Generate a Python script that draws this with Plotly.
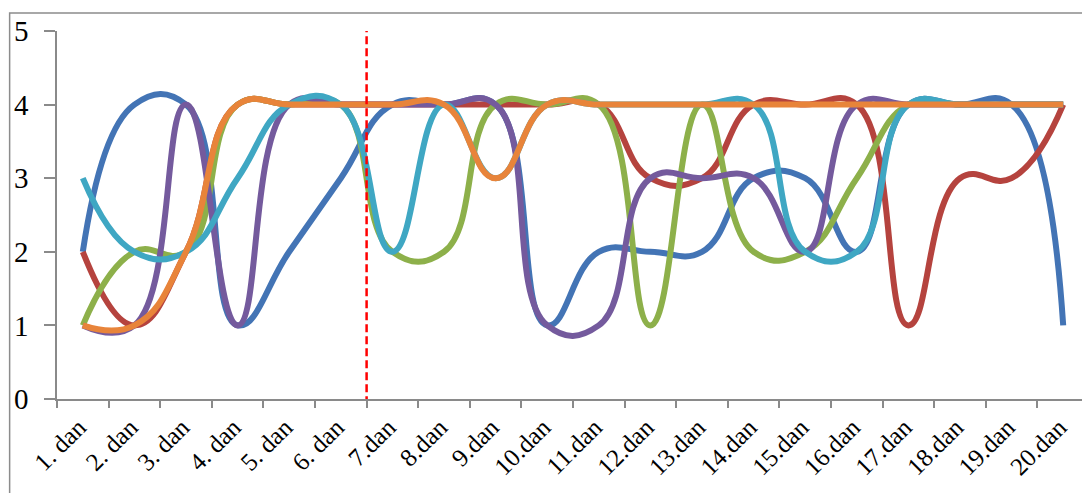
import plotly.graph_objects as go

days = ["1. dan", "2. dan", "3. dan", "4. dan", "5. dan", "6. dan",
        "7.dan", "8.dan", "9.dan", "10.dan", "11.dan", "12.dan", "13.dan",
        "14.dan", "15.dan", "16.dan", "17.dan", "18.dan", "19.dan", "20.dan"]

s_blue   = [2, 4, 4, 1, 2, 3, 4, 4, 4, 1, 2, 2, 2, 3, 3, 2, 4, 4, 4, 1]
s_red    = [2, 1, 2, 4, 4, 4, 4, 4, 4, 4, 4, 3, 3, 4, 4, 4, 1, 3, 3, 4]
s_green  = [1, 2, 2, 4, 4, 4, 2, 2, 4, 4, 4, 1, 4, 2, 2, 3, 4, 4, 4, 4]
s_purple = [1, 1, 4, 1, 4, 4, 4, 4, 4, 1, 1, 3, 3, 3, 2, 4, 4, 4, 4, 4]
s_teal   = [3, 2, 2, 3, 4, 4, 2, 4, 3, 4, 4, 4, 4, 4, 2, 2, 4, 4, 4, 4]
s_orange = [1, 1, 2, 4, 4, 4, 4, 4, 3, 4, 4, 4, 4, 4, 4, 4, 4, 4, 4, 4]

y_ticks = [0, 1, 2, 3, 4, 5]
split_after_index = 5  # boundary between "6. dan" and "7.dan"

series = [
    (s_blue, "#4374B5"),
    (s_red, "#B5433E"),
    (s_green, "#8DB04A"),
    (s_purple, "#745A9D"),
    (s_teal, "#3FA7C3"),
    (s_orange, "#E8843A"),
]

fig = go.Figure()
for vals, col in series:
    fig.add_trace(go.Scatter(
        x=days, y=vals, mode="lines",
        line=dict(color=col, width=6, shape="spline", smoothing=1.3),
        showlegend=False, hoverinfo="skip"))

xfont = dict(family="Liberation Serif, Times New Roman, serif", size=25, color="#000000")
yfont = dict(family="Liberation Serif, Times New Roman, serif", size=29, color="#000000")
axis_col = "#8A8A8A"

fig.update_xaxes(
    type="category", range=[-0.5, len(days) - 0.5],
    tickson="boundaries", ticks="outside", ticklen=7, tickwidth=1.5, tickcolor=axis_col,
    showline=True, linecolor=axis_col, linewidth=1.5,
    showgrid=False, zeroline=False, tickangle=-45, tickfont=xfont,
    ticklabelshift=-4, ticklabelstandoff=2, automargin=False)
fig.update_yaxes(
    range=[0, 5], tickvals=y_ticks, ticks="outside", ticklen=11, tickwidth=1.5,
    tickcolor=axis_col, showline=True, linecolor=axis_col, linewidth=1.5,
    showgrid=False, zeroline=False, tickfont=yfont, ticklabelstandoff=10, automargin=False)

# red dashed divider
fig.add_shape(type="line", xref="x", yref="y",
              x0=split_after_index + 0.5, x1=split_after_index + 0.5, y0=-0.07, y1=5.12,
              line=dict(color="#FF0000", width=2.5, dash="8px,4px"), layer="above")

# outer chart-area border
fig.add_shape(type="rect", xref="paper", yref="paper",
              x0=-0.0459, x1=1.05, y0=-0.4, y1=1.049,
              line=dict(color="#8C8C8C", width=1.5), fillcolor="rgba(0,0,0,0)")

# page body has an 8px margin: shrink figure so plot area lands where the reference has it
fig.update_layout(
    width=1082, height=485,
    margin=dict(l=49, r=1, t=23, b=94),
    paper_bgcolor="white", plot_bgcolor="white",
    font=xfont)

fig.write_html("out.html")
